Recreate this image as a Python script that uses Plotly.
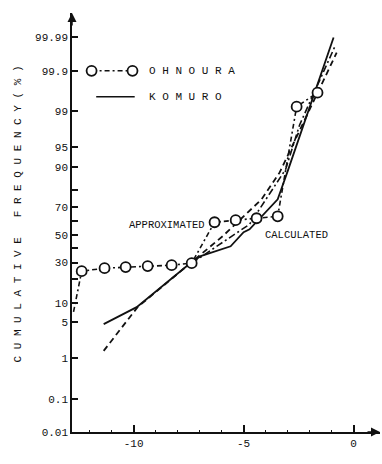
import plotly.graph_objects as go
from statistics import NormalDist

# ---------------- data ----------------
ohnoura_x = [-12.73, -12.36, -11.32, -10.36, -9.36, -8.27, -7.36, -6.32, -5.36, -4.41, -3.45, -2.59, -1.64]
ohnoura_p = [7.3, 24.6, 26.4, 27.1, 27.7, 28.3, 29.6, 59.3, 60.8, 62.2, 63.6, 99.21, 99.63]

komuro_x = [-11.36, -9.86, -7.36, -6.95, -5.59, -5.0, -4.73, -3.45, -3.0, -0.91]
komuro_p = [4.6, 8.6, 30.3, 34.3, 41.4, 51.9, 54.1, 74.8, 88.4, 99.99]

calc_x = [-11.36, -9.82, -7.36, -5.95, -4.18, -3.36, -0.77]
calc_p = [1.43, 8.6, 30.3, 48.9, 74.8, 88.0, 99.97]

approx_x = [-7.36, -4.73, -3.09, -2.45, -0.86]
approx_p = [29.6, 57.8, 89.1, 98.1, 99.98]

ytick_p = [99.99, 99.9, 99, 95, 90, 80, 70, 60, 50, 40, 30, 20, 10, 5, 1, 0.1, 0.01]
ytick_text = ["99.99", "99.9", "99", "95", "90", "", "70", "", "50", "", "30", "", "10", "5", "1", "0.1", "0.01"]
xtick_vals = [-10, -5, 0]
xtick_text = ["-10", "-5", "0"]

nd = NormalDist()
def z(p):
    return nd.inv_cdf(p / 100.0)

FONT = "Liberation Mono, DejaVu Sans Mono, monospace"
BLK = "#111"
WHITE = "rgba(255,255,255,1)"

fig = go.Figure()

# KOMURO (solid)
fig.add_trace(go.Scatter(x=komuro_x, y=[z(p) for p in komuro_p], mode="lines",
                         line=dict(color=BLK, width=1.8), showlegend=False))
# CALCULATED (dashed)
fig.add_trace(go.Scatter(x=calc_x, y=[z(p) for p in calc_p], mode="lines",
                         line=dict(color=BLK, width=1.8, dash="6px,4px"), showlegend=False))
# APPROXIMATED (dash-dot)
fig.add_trace(go.Scatter(x=approx_x, y=[z(p) for p in approx_p], mode="lines",
                         line=dict(color=BLK, width=1.6, dash="7px,3px,2px,3px"), showlegend=False))
# OHNOURA line (dash-dot)
fig.add_trace(go.Scatter(x=ohnoura_x, y=[z(p) for p in ohnoura_p], mode="lines",
                         line=dict(color=BLK, width=1.6, dash="5px,3px,2px,3px"),
                         showlegend=False))
# OHNOURA markers (open circles)
fig.add_trace(go.Scatter(x=ohnoura_x[1:], y=[z(p) for p in ohnoura_p[1:]], mode="markers",
                         marker=dict(symbol="circle", size=10, color=WHITE, opacity=1,
                                     line=dict(color=BLK, width=1.8)),
                         showlegend=False))

# legend samples (drawn in data coordinates)
leg_x = [-11.91, -10.05]
fig.add_trace(go.Scatter(x=leg_x, y=[z(99.9), z(99.9)], mode="lines",
                         line=dict(color=BLK, width=1.6, dash="5px,3px,2px,3px"),
                         showlegend=False))
fig.add_trace(go.Scatter(x=leg_x, y=[z(99.9), z(99.9)], mode="markers",
                         marker=dict(symbol="circle", size=10, color=WHITE, opacity=1,
                                     line=dict(color=BLK, width=1.8)),
                         showlegend=False))
fig.add_trace(go.Scatter(x=[-11.7, -9.95], y=[2.60, 2.60], mode="lines",
                         line=dict(color=BLK, width=1.4), showlegend=False))

annotations = [
    dict(x=-9.4, y=z(99.9), text="O H N O U R A", showarrow=False, xanchor="left",
         font=dict(family=FONT, size=11, color=BLK)),
    dict(x=-9.4, y=2.60, text="K O M U R O", showarrow=False, xanchor="left",
         font=dict(family=FONT, size=11, color=BLK)),
    dict(x=-8.5, y=0.18, text="APPROXIMATED", showarrow=False, xanchor="center",
         font=dict(family=FONT, size=10.5, color=BLK)),
    dict(x=-2.6, y=-0.01, text="CALCULATED", showarrow=False, xanchor="center",
         font=dict(family=FONT, size=10.5, color=BLK)),
    # axis titles
    dict(xref="paper", yref="paper", x=-0.2, y=0.52, showarrow=False, textangle=-90,
         text="C U M U L A T I V E   F R E Q U E N C Y ( % )",
         font=dict(family=FONT, size=11, color=BLK)),
    dict(x=-6.3, y=-4.2, text="l n <b>α</b>", showarrow=False, xanchor="center",
         font=dict(family=FONT, size=12, color=BLK)),
    # arrows
    dict(x=1.2, y=-3.719, ax=-14, ay=0, axref="pixel", ayref="pixel", text="",
         showarrow=True, arrowhead=2, arrowsize=1.2, arrowwidth=1.5, arrowcolor=BLK),
    dict(x=-12.8, y=4.18, ax=0, ay=14, axref="pixel", ayref="pixel", text="",
         showarrow=True, arrowhead=2, arrowsize=1.2, arrowwidth=1.5, arrowcolor=BLK),
]

fig.update_layout(
    width=382, height=464,
    margin=dict(l=72, r=2, t=13, b=32),
    paper_bgcolor="white", plot_bgcolor="white",
    annotations=annotations,
    showlegend=False,
    xaxis=dict(range=[-12.8, 1.2], showgrid=False, zeroline=False,
               showline=True, linecolor=BLK, linewidth=1.5,
               tickvals=xtick_vals, ticktext=xtick_text,
               ticks="inside", ticklen=7, tickwidth=1.5, tickcolor=BLK,
               tickfont=dict(family=FONT, size=11, color=BLK),
               minor=dict(tickvals=list(range(-12, 1)), ticks="inside", ticklen=2,
                          tickcolor=BLK, tickwidth=1)),
    yaxis=dict(range=[z(0.01), 4.18], showgrid=False, zeroline=False,
               showline=True, linecolor=BLK, linewidth=1.5,
               tickvals=[z(p) for p in ytick_p], ticktext=ytick_text,
               ticks="inside", ticklen=6, tickwidth=1.5, tickcolor=BLK,
               tickfont=dict(family=FONT, size=11, color=BLK)),
)

fig.write_html("out.html")
